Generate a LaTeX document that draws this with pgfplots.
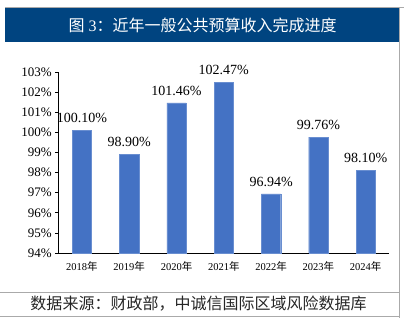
\documentclass[border=0pt]{standalone}
\usepackage{pgfplots}
\pgfplotsset{compat=1.18}
\usepackage{fontspec}
\setmainfont{Liberation Serif}
\newfontfamily\cjk{Noto Sans CJK SC}
\definecolor{titleblue}{RGB}{0,68,128}
\definecolor{barblue}{RGB}{68,114,196}
\definecolor{linegray}{RGB}{170,170,170}
\begin{document}
\begin{tikzpicture}[x=1pt,y=1pt]
\path[use as bounding box] (0,0) rectangle (404,322);
% frame lines
\draw[linegray,line width=0.8pt] (5,315) -- (404,315);
\draw[linegray,line width=0.8pt] (399,315) -- (399,4);
\draw[linegray,line width=0.8pt] (0,30) -- (399,30);
\draw[linegray,line width=0.8pt] (0,6) -- (399,6);
\fill[titleblue] (5,279.5) rectangle (399,313.7);
\node[white,font=\fontsize{16}{18}\selectfont] at (202.5,296.5) {{\cjk 图} 3{\cjk ：近年一般公共预算收入完成进度}};
\node[black!85,font=\fontsize{16}{18}\selectfont\cjk] at (198.5,18.5) {数据来源：财政部，中诚信国际区域风险数据库};
\begin{axis}[
  at={(58.3pt,69pt)}, anchor=south west,
  scale only axis, width=331pt, height=181pt,
  ymin=94, ymax=103,
  ytick={94,95,...,103},
  yticklabel={\pgfmathprintnumber{\tick}\%},
  xmin=-0.5, xmax=6.5,
  xtick={0,1,2,3,4,5,6},
  xticklabels={2018{\cjk 年},2019{\cjk 年},2020{\cjk 年},2021{\cjk 年},2022{\cjk 年},2023{\cjk 年},2024{\cjk 年}},
  xtick style={draw=none},
  minor xtick={-0.5,0.5,...,6.5},
  minor tick length=3pt,
  major tick length=3pt,
  tick align=outside,
  axis x line*=bottom,
  axis y line*=left,
  axis line style={line width=0.8pt},
  tick style={black,line width=0.6pt},
  /pgf/number format/assume math mode=true,
  x tick label style={font=\fontsize{10.5}{12}\selectfont, yshift=-2pt},
  y tick label style={font=\fontsize{13}{14}\selectfont},
  ybar, bar width=19.3pt,
  nodes near coords={\pgfmathprintnumber[fixed,fixed zerofill,precision=2]{\pgfplotspointmeta}\%},
  nodes near coords style={font=\fontsize{14}{16}\selectfont, yshift=4pt},
  clip=false,
]
\addplot[fill=barblue, draw=barblue!80!white] coordinates {
(0,100.10) (1,98.90) (2,101.46) (3,102.47) (4,96.94) (5,99.76) (6,98.10)};
\end{axis}
\end{tikzpicture}
\end{document}
